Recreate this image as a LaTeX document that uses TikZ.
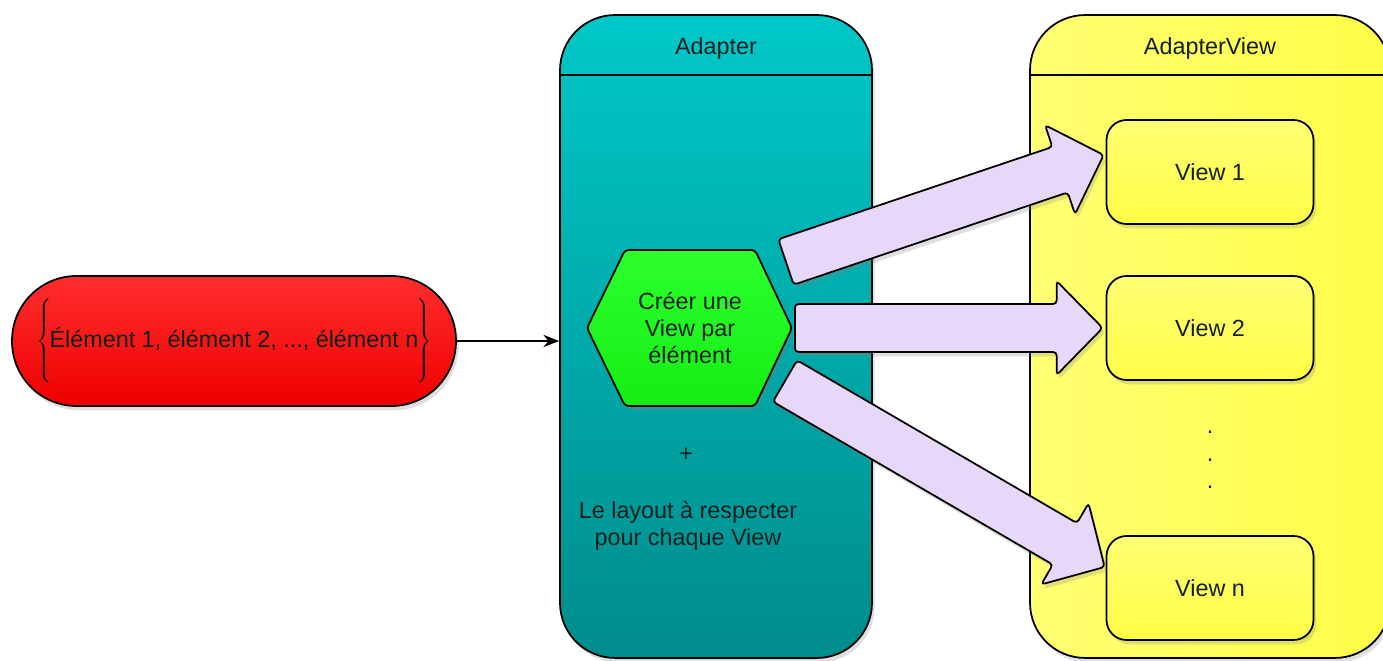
\documentclass[tikz,border=0pt]{standalone}
\usepackage{fontspec}
\setmainfont{Liberation Sans}
\usepackage{tikz}
\usetikzlibrary{arrows.meta, positioning, calc, shadows}
\definecolor{elemred}{RGB}{255,45,45}
\definecolor{elemdark}{RGB}{240,0,0}
\definecolor{tealtop}{RGB}{0,200,200}
\definecolor{tealbot}{RGB}{0,140,140}
\definecolor{ylight}{RGB}{255,255,115}
\definecolor{ydark}{RGB}{255,253,70}
\definecolor{hexgreen}{RGB}{45,255,45}
\definecolor{hexdark}{RGB}{20,238,20}
\definecolor{lavender}{RGB}{231,215,249}
\definecolor{inktext}{RGB}{20,32,32}

% fat arrow from #1 to #2
\newcommand{\fatarrow}[2]{%
  \coordinate (fa-a) at (#1);
  \coordinate (fa-b) at (#2);
  \coordinate (fa-h) at ($(fa-b)!0.92cm!(fa-a)$);
  \filldraw[fatarr] ($(fa-a)!0.48cm!90:(fa-b)$) -- ($(fa-h)!0.48cm!-90:(fa-a)$)
    -- ($(fa-h)!0.94cm!-90:(fa-a)$) -- (fa-b) -- ($(fa-h)!0.94cm!90:(fa-a)$)
    -- ($(fa-h)!0.48cm!90:(fa-a)$) -- ($(fa-a)!0.48cm!-90:(fa-b)$) -- cycle;}

\begin{document}
\begin{tikzpicture}[
    x=0.02cm, y=-0.02cm,
    font=\fontsize{13.3}{15.6}\selectfont, text=inktext,
    >={Stealth[length=9pt, width=7pt]},
    shade/.style={drop shadow={opacity=0.25, shadow xshift=1.5pt, shadow yshift=-2.5pt}},
    panel/.style={draw, line width=1pt, rounded corners=1.1cm, shade, minimum width=#1, minimum height=12.86cm},
    viewbox/.style={draw, line width=1pt, rounded corners=0.4cm, shade, top color=ylight, bottom color=ydark,
        minimum width=4.14cm, minimum height=2.08cm},
    fatarr/.style={draw, line width=1pt, fill=lavender, rounded corners=2pt, shade},
    conn/.style={->, line width=1pt},
]
    \useasboundingbox (0,0) rectangle (1383,661);

    % list of elements
    \node[draw, line width=1pt, rounded corners=1.29cm, shade, top color=elemred, bottom color=elemdark,
        minimum width=8.88cm, minimum height=2.6cm, inner sep=0pt] (elems) at (234,341)
        {$\left\{\vrule height 22pt depth 20pt width 0pt\right.\!$Élément 1, élément 2, ..., élément n$\!\left.\vrule height 22pt depth 20pt width 0pt\right\}$};

    % the two panels
    \coordinate (hdr) at (0,75);
    \node[panel=6.24cm, top color=tealtop, bottom color=tealbot] (adapter) at (716,336.5) {};
    \node[panel=7.2cm, left color=ylight, right color=ydark] (adview) at (1210,336.5) {};
    \draw[line width=1pt] (adapter.west |- hdr) -- (adapter.east |- hdr);
    \draw[line width=1pt] (adview.west |- hdr) -- (adview.east |- hdr);
    \node (adtitle) at (716,48) {Adapter};
    \node (avtitle) at (1210,48) {AdapterView};

    \draw[conn] (elems.east) -- (elems.east -| adapter.west);

    % hexagon
    \coordinate (hexc) at (690,328);
    \filldraw[line width=1pt, rounded corners=2pt, shade, top color=hexgreen, bottom color=hexdark]
        ($(hexc)+(-103,0)$) -- ++(38,-78) -- ++(130,0) -- ++(37,78) -- ++(-37,78) -- ++(-130,0) -- cycle;
    \node[align=center] (hex) at (hexc) {Créer une\\View par\\élément};

    \node (plus) at (686,455) {+};
    \node[align=center] (layout) at (688,526) {Le layout à respecter\\pour chaque View};

    % views
    \node[viewbox] (view1) at (1210,172) {View 1};
    \node[viewbox] (view2) at (1210,328) {View 2};
    \node[viewbox] (viewn) at (1210,588) {View n};
    \node[align=center] (dots) at (1210,460) {.\\.\\.};

    \coordinate (out1) at ($(hexc)+(96,-66)$);
    \coordinate (out2) at ($(hexc)+(105,0)$);
    \coordinate (outn) at ($(hexc)+(95,53)$);
    \coordinate (in1) at ($(view1.west)+(-2,-17)$);
    \coordinate (in2) at ($(view2.west)+(-3,0)$);
    \coordinate (inn) at ($(viewn.west)+(-1,-21)$);
    \fatarrow{out1}{in1}
    \fatarrow{out2}{in2}
    \fatarrow{outn}{inn}
\end{tikzpicture}
\end{document}
